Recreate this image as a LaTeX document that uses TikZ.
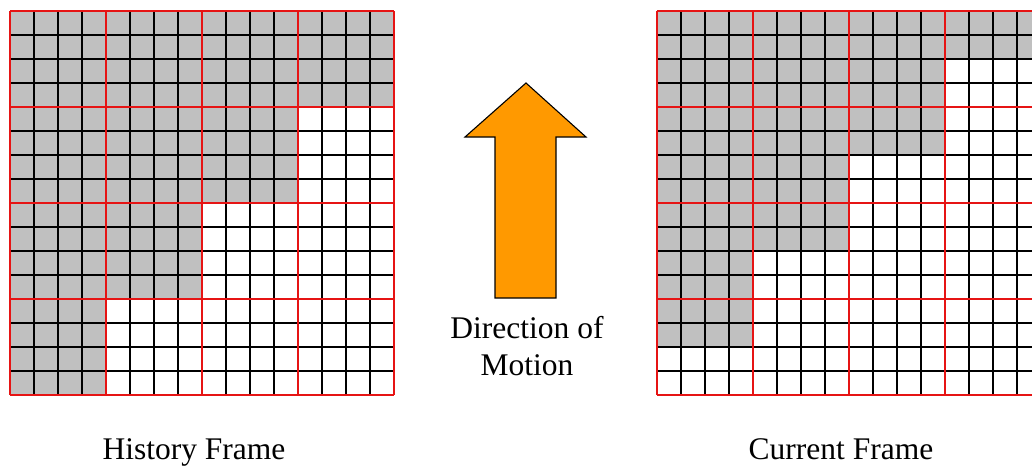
\documentclass[tikz,border=0pt]{standalone}
\usepackage{fontspec}
\setmainfont{Liberation Serif}
\usepackage{tikz}
\usetikzlibrary{positioning}
\definecolor{cellgray}{RGB}{192,192,192}
\definecolor{blockred}{RGB}{230,20,20}
\definecolor{motionorange}{RGB}{255,153,0}
\tikzset{
  cellline/.style={line width=1.5pt,black},
  blockline/.style={line width=1.8pt,blockred},
  shade/.style={fill=cellgray,draw=none},
  motionarrow/.style={draw,fill=motionorange,line width=1.1pt,line join=miter},
  lbl/.style={font=\fontsize{31.5}{37}\selectfont,align=center,inner sep=0pt},
}

\begin{document}
\begin{tikzpicture}[x=1pt,y=-1pt]
  \clip (0,0) rectangle (1032,466);
  % covered cells, history frame
  \fill[shade] (10,11) rectangle (394,107);
  \fill[shade] (10,107) rectangle (298,203);
  \fill[shade] (10,203) rectangle (202,299);
  \fill[shade] (10,299) rectangle (106,395);
  % covered cells, current frame (moved up by two rows)
  \fill[shade] (657,11) rectangle (1041,59);
  \fill[shade] (657,59) rectangle (945,155);
  \fill[shade] (657,155) rectangle (849,251);
  \fill[shade] (657,251) rectangle (753,347);
  % pixel grids
  \foreach \ox in {10,657} {
    \foreach \i in {0,...,16} {
      \draw[cellline] (\ox+24*\i,11) -- (\ox+24*\i,395);
      \draw[cellline] (\ox,11+24*\i) -- (\ox+384,11+24*\i);
    }
    \foreach \i in {0,...,4} {
      \draw[blockline] (\ox+96*\i,11) -- (\ox+96*\i,395);
      \draw[blockline] (\ox,11+96*\i) -- (\ox+384,11+96*\i);
    }
  }
  % arrow
  \draw[motionarrow] (495,298) -- (495,137) -- (465,137) -- (526,83)
    -- (586,137) -- (556,137) -- (556,298) -- cycle;
  \node[lbl,anchor=base] (dir) at (527,375) {Direction of\\Motion};
  \node[lbl,anchor=base] (hist) at (194,459) {History Frame};
  \node[lbl,anchor=base] (curr) at (841,459) {Current Frame};
\end{tikzpicture}
\end{document}
